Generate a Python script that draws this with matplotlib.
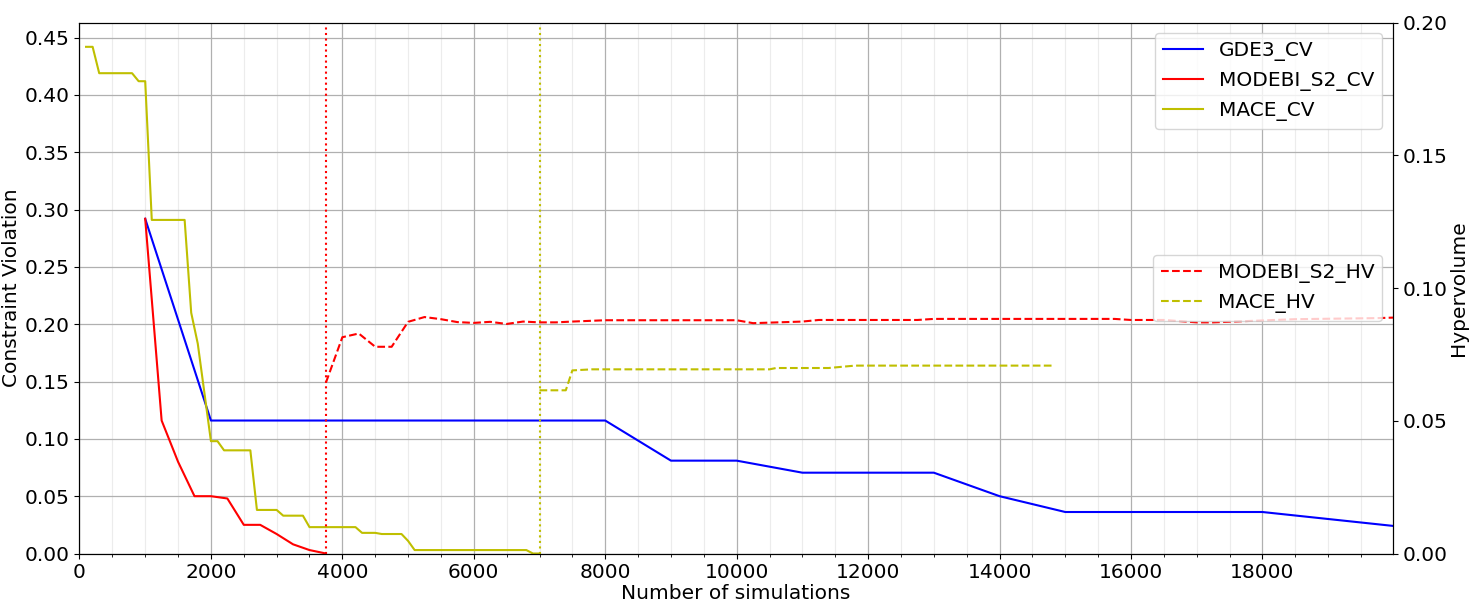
import numpy as np
import matplotlib.pyplot as plt
from matplotlib.ticker import MultipleLocator

plt.rcParams['font.size'] = 14.5

# Constraint violation (left axis)
gde3_x = [1000, 2000, 8000, 9000, 10000, 11000, 13000, 14000, 15000, 18000, 20000]
gde3_cv = [0.292, 0.116, 0.116, 0.081, 0.081, 0.0705, 0.0705, 0.050, 0.0362, 0.0362, 0.024]

modebi_x = [1000, 1250, 1500, 1750, 2000, 2250, 2500, 2750, 3000, 3250, 3500, 3750]
modebi_cv = [0.292, 0.116, 0.080, 0.050, 0.050, 0.048, 0.025, 0.025, 0.017, 0.008, 0.003, 0.0]

mace_x = [100, 200, 300, 800, 900, 1000, 1100, 1600, 1700, 1800, 2000, 2100, 2200,
          2600, 2700, 3000, 3100, 3400, 3500, 4200, 4300, 4500, 4600, 4900, 5000,
          5100, 6800, 6900, 7000]
mace_cv = [0.442, 0.442, 0.419, 0.419, 0.412, 0.412, 0.291, 0.291, 0.210, 0.183,
           0.098, 0.098, 0.090, 0.090, 0.038, 0.038, 0.033, 0.033, 0.023, 0.023,
           0.018, 0.018, 0.017, 0.017, 0.011, 0.003, 0.003, 0.0, 0.0]

# Hypervolume (right axis)
modebi_hv_x = [3750, 4000, 4250, 4500, 4750, 5000, 5250, 5500, 5750, 6000, 6250,
               6500, 6750, 7000, 7250, 7500, 8000, 9500, 10000, 10250, 10500,
               11000, 11250, 12750, 13000, 15750, 16000, 16500, 17000, 17250,
               18500, 19750, 20000]
modebi_hv = [0.0644, 0.0815, 0.0829, 0.0779, 0.0779, 0.0873, 0.0891, 0.0883,
             0.0872, 0.0869, 0.0873, 0.0865, 0.0874, 0.0871, 0.0871, 0.0874,
             0.0879, 0.0879, 0.0879, 0.0868, 0.0870, 0.0874, 0.0880, 0.0880,
             0.0884, 0.0884, 0.0880, 0.0880, 0.0871, 0.0871, 0.0883, 0.0887, 0.0889]

mace_hv_x = [7000, 7400, 7500, 7800, 10500, 10600, 11400, 11800, 14800]
mace_hv = [0.0615, 0.0615, 0.0690, 0.0694, 0.0694, 0.0699, 0.0699, 0.0708, 0.0708]

modebi_stop = 3750
mace_stop = 7000

fig, ax = plt.subplots(figsize=(14.72, 6.15), dpi=100)
fig.subplots_adjust(left=0.054, right=0.946, top=0.963, bottom=0.1)

ax.plot(gde3_x, gde3_cv, color='b', lw=1.5, label='GDE3_CV')
ax.plot(modebi_x, modebi_cv, color='r', lw=1.5, label='MODEBI_S2_CV')
ax.plot(mace_x, mace_cv, color='y', lw=1.5, label='MACE_CV')
ax.axvline(modebi_stop, color='r', ls=':', lw=1.5)
ax.axvline(mace_stop, color='y', ls=':', lw=1.5)

ax.set_xlim(0, 19980)
ax.set_ylim(0, 0.463)
ax.xaxis.set_major_locator(MultipleLocator(2000))
ax.xaxis.set_minor_locator(MultipleLocator(500))
ax.yaxis.set_major_locator(MultipleLocator(0.05))
ax.grid(which='major', color='#b0b0b0', lw=0.9)
ax.grid(which='minor', axis='x', color='#ececec', lw=0.8)
ax.set_xlabel('Number of simulations', labelpad=1)
ax.set_ylabel('Constraint Violation', labelpad=3)
ax.legend(loc='upper right')

ax2 = ax.twinx()
ax2.plot(modebi_hv_x, modebi_hv, color='r', ls='--', lw=1.5, label='MODEBI_S2_HV')
ax2.plot(mace_hv_x, mace_hv, color='y', ls='--', lw=1.5, label='MACE_HV')
ax2.set_ylim(0, 0.2)
ax2.yaxis.set_major_locator(MultipleLocator(0.05))
ax2.set_ylabel('Hypervolume', labelpad=1)
ax2.legend(loc='center right')

fig.savefig('out.png', dpi=100)
